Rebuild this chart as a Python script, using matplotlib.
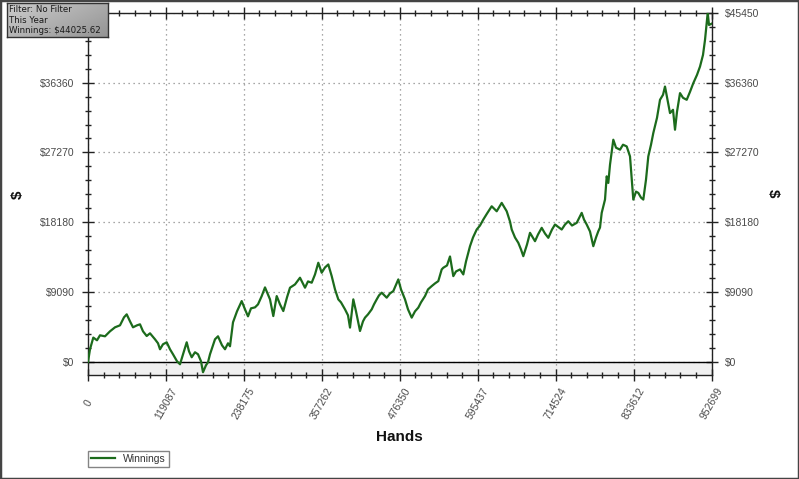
import numpy as np
import matplotlib
matplotlib.use("Agg")
import matplotlib.pyplot as plt
from matplotlib.patches import Rectangle
from matplotlib.ticker import FixedLocator, MultipleLocator

# ---- data ----
hands = [0, 3056, 8099, 13752, 18336, 25976, 33616, 41256, 48896, 55008, 59134, 64176,
         68760, 74872, 79456, 84040, 89694, 94736, 102376, 106960, 110016, 114600,
         120254, 125296, 129880, 135992, 140576, 145160, 150814, 154328, 158454, 163496,
         168080, 172664, 175720, 180304, 183360, 186416, 189014, 194056, 198640, 204752,
         209336, 213920, 216976, 221560, 227672, 234854, 239896, 244480, 249064, 255176,
         259760, 265414, 270456, 278096, 283138, 288334, 293376, 298418, 304072, 308656,
         316296, 323936, 331576, 336160, 341814, 346856, 351898, 357094, 362136, 367178,
         372374, 377416, 382458, 386584, 392696, 397280, 400336, 405378, 409504, 415616,
         420200, 423256, 427840, 433494, 437008, 441134, 444648, 448774, 456414, 461456,
         466498, 474138, 478264, 484376, 488960, 494614, 499656, 504698, 508824, 514936,
         519520, 525174, 530216, 535258, 540454, 542898, 548552, 553136, 558178, 562304,
         568416, 573458, 577584, 583696, 588280, 593934, 598976, 604018, 609672, 616854,
         624494, 632134, 639774, 644816, 647414, 652456, 657498, 661624, 665138, 670792,
         675376, 683016, 687600, 693254, 698296, 703338, 708992, 713576, 723814, 728856,
         733898, 739552, 746734, 754374, 757888, 762014, 767056, 772098, 776224, 779738,
         782336, 784934, 789976, 792574, 795018, 797616, 802658, 806784, 812896, 817480,
         823134, 828176, 833218, 837344, 840858, 844984, 848498, 852624, 856138, 860264,
         863778, 869432, 874016, 878600, 881656, 886240, 889296, 893880, 896936, 899992,
         904576, 909160, 914814, 919856, 924898, 930552, 935136, 939720, 942776, 946902,
         948888, 952699]
winnings = [0, 1650, 3170, 2819, 3468, 3338, 3988, 4508, 4767, 5807, 6196, 5287,
            4508, 4767, 4897, 3988, 3377, 3728, 2949, 2429, 1650, 2299,
            2559, 1650, 1000, 91, -299, 1000, 2559, 1390, 611, 1260,
            1000, 91, -1338, -429, -39, 1000, 1650, 2949, 3338, 2169,
            1650, 2429, 2039, 5157, 6586, 7924, 6846, 5936, 6976, 7106,
            7495, 8573, 9704, 8145, 5975, 8573, 7495, 6625, 8405, 9665,
            10093, 10964, 9665, 10483, 10314, 11392, 12912, 11613, 12302, 12691,
            11171, 9444, 8145, 7755, 6846, 6066, 4469, 8145, 6586, 4027,
            5287, 5768, 6196, 6846, 7495, 8145, 8664, 9015, 8366, 8924,
            9223, 10743, 9444, 8145, 6846, 5768, 6586, 7067, 7755, 8573,
            9444, 9872, 10223, 10522, 12042, 12263, 12561, 13730, 11171, 11782,
            12042, 11392, 13081, 15068, 16199, 17238, 17757, 18537, 19316, 20264,
            19615, 20706, 19615, 18277, 17238, 16199, 15510, 14640, 13769, 15289,
            16809, 15718, 16588, 17459, 16718, 16160, 17238, 17887, 17238, 17887,
            18316, 17757, 18108, 19407, 18537, 17887, 16978, 15068, 16199, 17017,
            17498, 19407, 21135, 24161, 23304, 25681, 28929, 27890, 27630, 28279,
            28058, 26759, 21135, 22174, 22005, 21395, 21135, 23733, 26759, 28279,
            29799, 31787, 34125, 34774, 35852, 33735, 32397, 32826, 30228, 32566,
            34995, 34385, 34125, 35164, 36294, 37372, 38450, 39970, 41918, 45450,
            43867, 44025.62]

x_ticks = [0, 119087, 238175, 357262, 476350, 595437, 714524, 833612, 952699]
y_ticks = [0, 9090, 18180, 27270, 36360, 45450]
y_tick_labels = ["$0", "$9090", "$18180", "$27270", "$36360", "$45450"]
series_name = "Winnings"
info_lines = ["Filter: No Filter", "This Year", "Winnings: $44025.62"]

W, H = 799, 479
fig = plt.figure(figsize=(W / 100, H / 100), dpi=100)
fig.patch.set_facecolor("white")
plt.rcParams["font.family"] = ["Liberation Sans", "DejaVu Sans"]

ax = fig.add_axes([88 / W, 1 - 375 / H, (711.5 - 88) / W, (375 - 12.8) / H])
ax.set_facecolor("white")
ax.set_xlim(0, x_ticks[-1])
ax.set_ylim(-1700, y_ticks[-1])

ax.axhspan(-1700, 0, color="#f0f0f0", zorder=0, lw=0)

line, = ax.plot(hands, winnings, color="#1c6b1c", lw=1.6, zorder=3, label=series_name)
ax.axhline(0, color="black", lw=1.0, zorder=2)

ax.xaxis.set_major_locator(FixedLocator(x_ticks))
ax.xaxis.set_minor_locator(FixedLocator(np.linspace(0, x_ticks[-1], 41)))
ax.yaxis.set_major_locator(FixedLocator(y_ticks))
ax.yaxis.set_minor_locator(MultipleLocator(1818))
ax.set_xticklabels([str(v) for v in x_ticks])
ax.set_yticklabels(y_tick_labels)

ax.grid(True, which="major", linestyle=(0, (1, 3)), color="#8a8a8a", lw=0.9, zorder=1)

for s in ax.spines.values():
    s.set_color("#222222")
    s.set_linewidth(1.0)

ax.tick_params(axis="both", which="major", direction="inout", length=9, width=1.0,
               color="#222222", labelsize=7.5, labelcolor="#4a4a4a")
ax.tick_params(axis="both", which="minor", direction="inout", length=5, width=1.0,
               color="#222222")
ax.tick_params(axis="y", which="both", left=True, right=True, labelleft=True, labelright=True)
ax.tick_params(axis="y", which="major", pad=5)
ax.tick_params(axis="x", which="both", top=True, bottom=True)
ax.tick_params(axis="x", which="major", pad=16)

# the top-left $45450 label is covered by the info box in the reference
ax.yaxis.get_major_ticks()[-1].label1.set_visible(False)

for lab in ax.get_xticklabels():
    lab.set_rotation(60)
    lab.set_rotation_mode("anchor")
    lab.set_ha("center")
    lab.set_va("center")

fig.text(399 / W, 1 - 437 / H, "Hands", ha="center", va="center", fontsize=11,
         fontweight="bold", color="#111111")
fig.text(18 / W, 1 - 195 / H, "$", ha="center", va="center", fontsize=11,
         fontweight="bold", rotation=90, color="#111111")
fig.text(773 / W, 1 - 193 / H, "$", ha="center", va="center", fontsize=11,
         fontweight="bold", rotation=-90, color="#111111")

leg = fig.legend(handles=[line], loc="upper left",
                 bbox_to_anchor=(88 / W, 1 - 451 / H), fontsize=7.5,
                 fancybox=False, frameon=True, edgecolor="#666666",
                 handlelength=2.3, borderpad=0.3, handletextpad=0.8,
                 borderaxespad=0)
leg.get_frame().set_linewidth(1.0)
for t in leg.get_texts():
    t.set_color("#333333")

# info box (top-left)
iax = fig.add_axes([7 / W, 1 - 37 / H, 101 / W, 34 / H])
gx = np.linspace(0, 1, 200)
gy = np.linspace(0, 1, 60)
G = 0.80 - 0.22 * (0.6 * gx[None, :] + 0.4 * gy[:, None])
iax.imshow(G, cmap="gray", vmin=0, vmax=1, aspect="auto", extent=(0, 1, 0, 1),
           origin="upper")
iax.set_xlim(0, 1)
iax.set_ylim(0, 1)
iax.set_xticks([])
iax.set_yticks([])
for s in iax.spines.values():
    s.set_color("#333333")
    s.set_linewidth(1.0)
for i, t in enumerate(info_lines):
    iax.text(0.02, 0.82 - i * 0.32, t, ha="left", va="center", fontsize=6.2,
             color="#1a1a1a", family=["DejaVu Sans"], transform=iax.transAxes)

fig.patches.append(Rectangle((0, 0), 1, 1, transform=fig.transFigure, fill=False,
                             edgecolor="#444444", lw=2.5, zorder=10))

fig.savefig("out.png", dpi=100, facecolor="white")
